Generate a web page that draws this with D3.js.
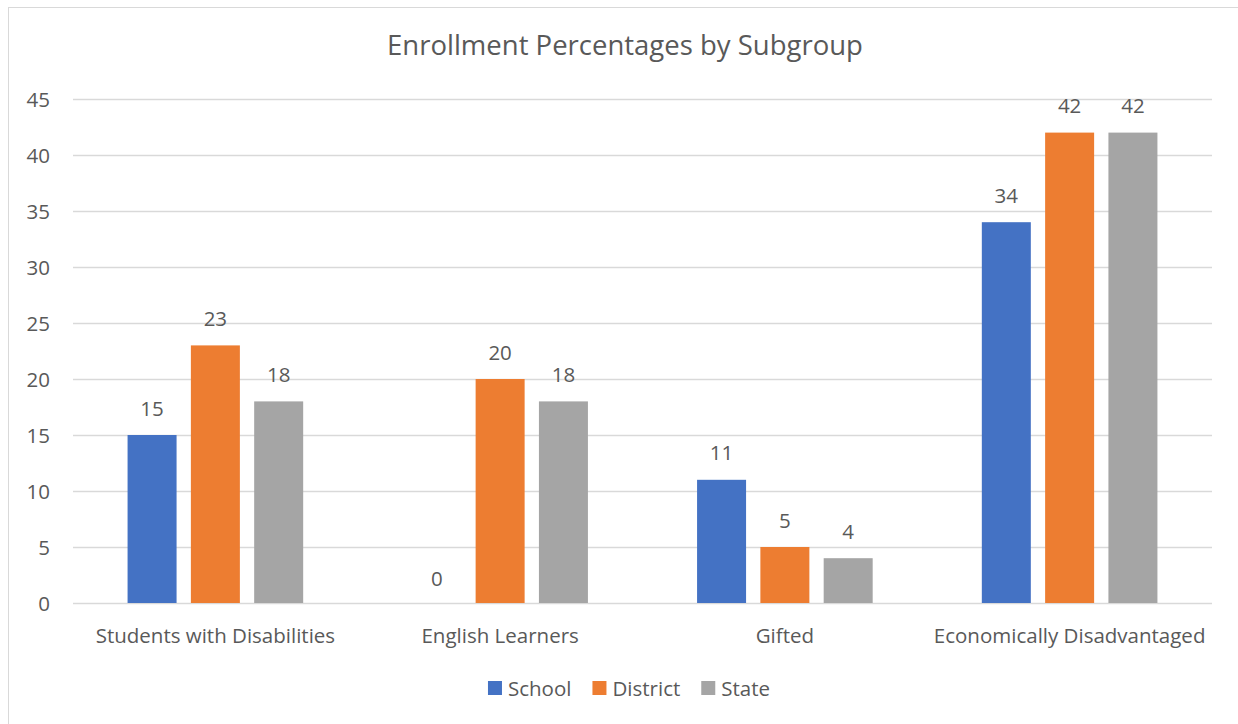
<!DOCTYPE html>
<html>
<head>
	<meta charset="utf-8">
	<title>Enrollment Percentages by Subgroup</title>
	<style>
		body { margin: 0; background: #fff; }
		svg text { font-family: "Open Sans", "Noto Sans", sans-serif; fill: #595959; }
	</style>
</head>
<body>
	<svg id="chart" width="1238" height="724"></svg>
	<script src="https://cdn.jsdelivr.net/npm/d3@7/dist/d3.min.js"></script>
	<script>
		// data
		var categories = ['Students with Disabilities', 'English Learners', 'Gifted', 'Economically Disadvantaged'];
		var seriesNames = ['School', 'District', 'State'];
		var schoolValues = [15, 0, 11, 34];
		var districtValues = [23, 20, 5, 42];
		var stateValues = [18, 18, 4, 42];
		var yTicks = [0, 5, 10, 15, 20, 25, 30, 35, 40, 45];
		var colors = ['#4472c4', '#ed7d31', '#a5a5a5'];

		var seriesValues = [schoolValues, districtValues, stateValues];

		var plot = { left: 73, right: 1212, top: 99, bottom: 603 };
		var labelSize = '20.5px';

		var svg = d3.select('#chart');

		// chart area border
		svg.append('rect')
			.attr('x', 8.5).attr('y', 7.5)
			.attr('width', 1240).attr('height', 730)
			.attr('fill', '#fff')
			.attr('stroke', '#d9d9d9')
			.attr('stroke-width', 1);

		svg.append('text')
			.attr('x', 625).attr('y', 55)
			.attr('text-anchor', 'middle')
			.style('font-size', '27.5px')
			.text('Enrollment Percentages by Subgroup');

		var x0 = d3.scaleBand().domain(categories).range([plot.left, plot.right]).padding(0);
		var x1 = d3.scaleBand().domain(seriesNames).range([0, x0.bandwidth()])
			.paddingInner(0.226).paddingOuter(0.862);
		var y = d3.scaleLinear().domain([0, 45]).range([plot.bottom, plot.top]);

		// gridlines
		svg.append('g')
			.selectAll('line')
			.data(yTicks)
			.enter()
			.append('line')
			.attr('x1', plot.left).attr('x2', plot.right)
			.attr('y1', function (d) { return Math.round(y(d)) + 0.5; })
			.attr('y2', function (d) { return Math.round(y(d)) + 0.5; })
			.attr('stroke', '#d9d9d9')
			.attr('stroke-width', 1.5);

		// y axis labels
		var yAxis = d3.axisLeft(y).tickValues(yTicks).tickSize(0).tickPadding(0);
		var yg = svg.append('g')
			.attr('transform', 'translate(50,0)')
			.call(yAxis);
		yg.select('.domain').remove();
		yg.selectAll('text')
			.style('font-size', labelSize)
			.attr('dy', '0.35em');

		// bars
		var rows = categories.map(function (c, i) {
			return seriesNames.map(function (s, j) {
				return { cat: c, series: s, value: seriesValues[j][i], color: colors[j] };
			});
		});

		var groups = svg.append('g')
			.selectAll('g')
			.data(rows)
			.enter()
			.append('g')
			.attr('transform', function (d, i) { return 'translate(' + x0(categories[i]) + ',0)'; });

		groups.selectAll('rect')
			.data(function (d) { return d; })
			.enter()
			.append('rect')
			.attr('x', function (d) { return x1(d.series); })
			.attr('width', x1.bandwidth())
			.attr('y', function (d) { return y(d.value); })
			.attr('height', function (d) { return y(0) - y(d.value); })
			.attr('fill', function (d) { return d.color; });

		groups.selectAll('text')
			.data(function (d) { return d; })
			.enter()
			.append('text')
			.attr('x', function (d) { return x1(d.series) + x1.bandwidth() / 2; })
			.attr('y', function (d) { return y(d.value) - (d.value === 0 ? 17 : 19.5); })
			.attr('text-anchor', 'middle')
			.style('font-size', labelSize)
			.text(function (d) { return d.value; });

		// category axis
		var xAxis = d3.axisBottom(x0).tickSize(0).tickPadding(0);
		var xg = svg.append('g')
			.attr('transform', 'translate(0,' + 643 + ')')
			.call(xAxis);
		xg.select('.domain').remove();
		xg.selectAll('text')
			.attr('dy', 0)
			.style('font-size', labelSize);

		// legend
		var legend = svg.append('g');
		var lx = 0;
		var items = legend.selectAll('g')
			.data(seriesNames)
			.enter()
			.append('g');
		items.append('rect')
			.attr('width', 14).attr('height', 14)
			.attr('y', 681)
			.attr('fill', function (d, i) { return colors[i]; });
		items.append('text')
			.attr('x', 20).attr('y', 695.5)
			.style('font-size', labelSize)
			.text(function (d) { return d; });
		items.each(function () {
			var w = this.getBBox().width;
			d3.select(this).attr('transform', 'translate(' + lx + ',0)');
			lx += w + 21;
		});
		var legendWidth = lx - 21;
		legend.attr('transform', 'translate(' + (629 - legendWidth / 2) + ',0)');
	</script>
</body>
</html>
